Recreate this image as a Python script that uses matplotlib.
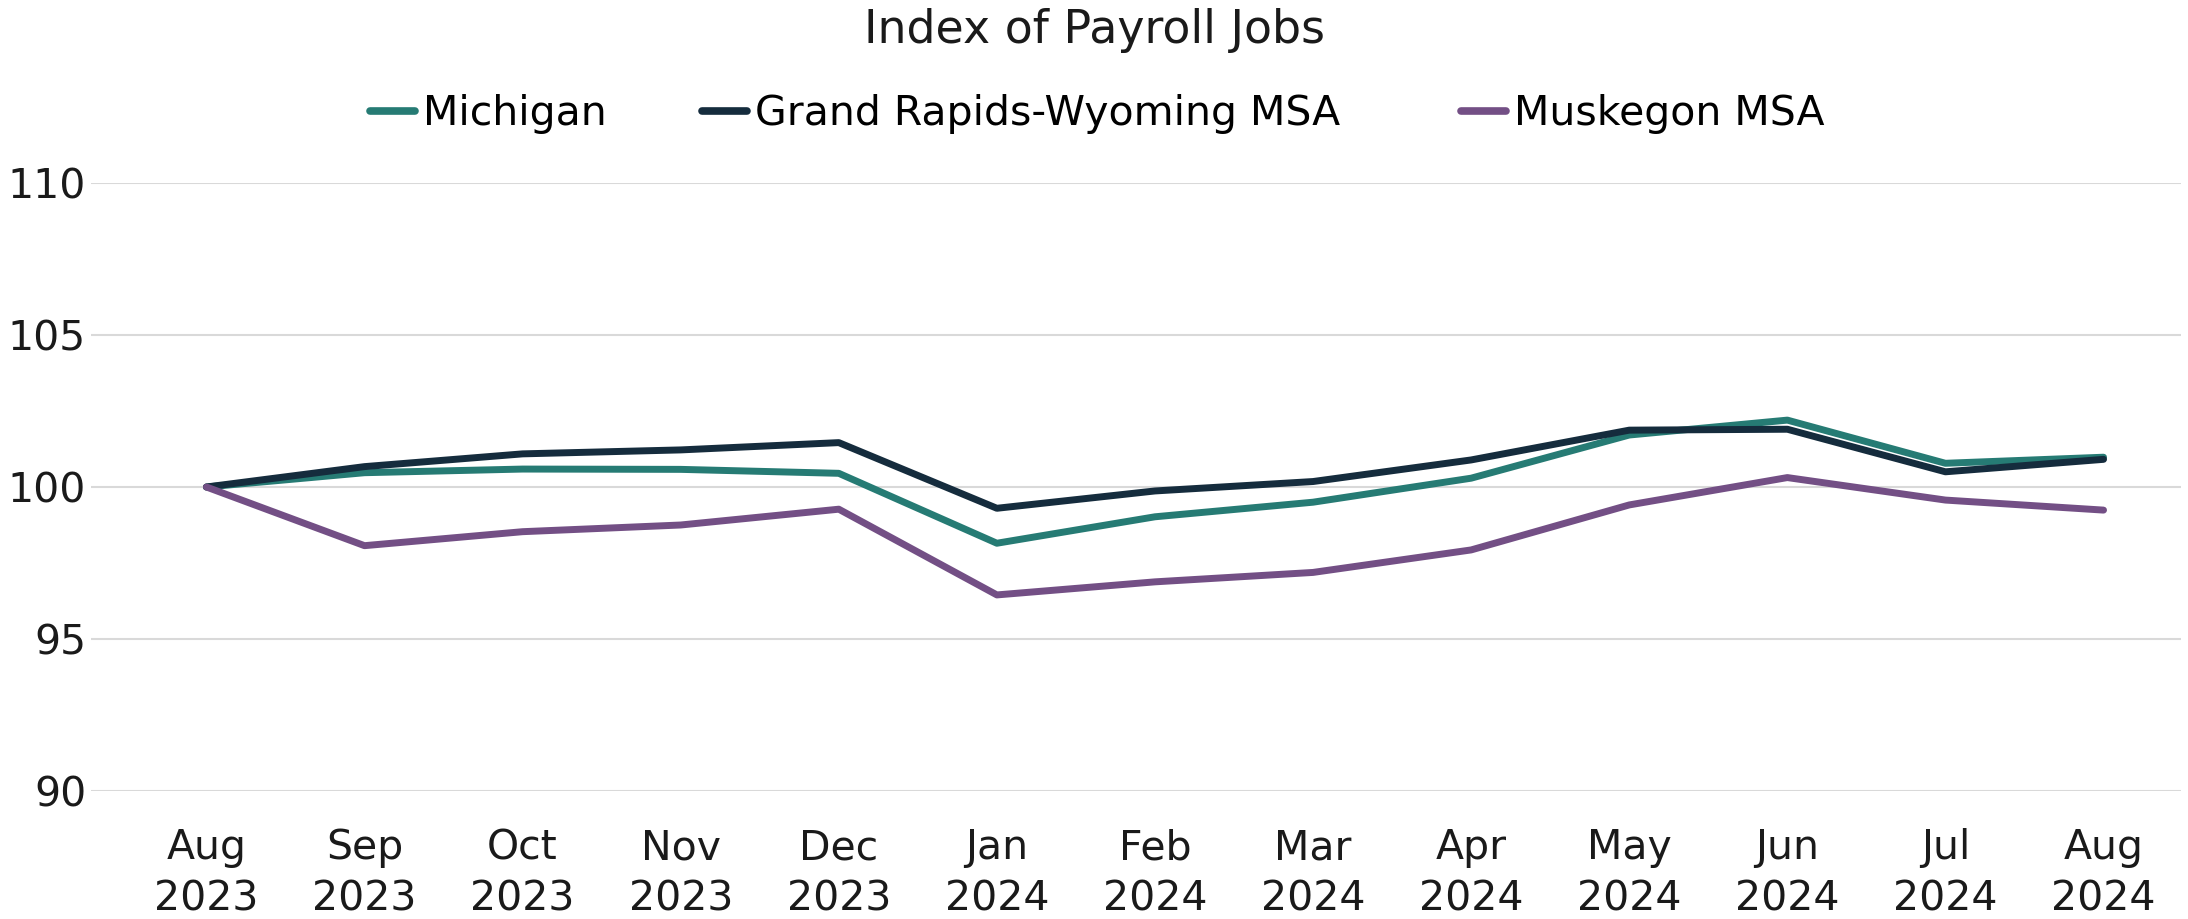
import matplotlib
matplotlib.use("Agg")
import matplotlib.pyplot as plt

months = ["Aug\n2023", "Sep\n2023", "Oct\n2023", "Nov\n2023", "Dec\n2023",
          "Jan\n2024", "Feb\n2024", "Mar\n2024", "Apr\n2024", "May\n2024",
          "Jun\n2024", "Jul\n2024", "Aug\n2024"]
michigan = [100.0, 100.47, 100.59, 100.58, 100.45, 98.15, 99.02, 99.50,
            100.29, 101.71, 102.2, 100.78, 100.98]
grand_rapids = [100.0, 100.67, 101.09, 101.22, 101.46, 99.30, 99.87, 100.18,
                100.89, 101.87, 101.9, 100.5, 100.91]
muskegon = [100.0, 98.07, 98.53, 98.75, 99.27, 96.45, 96.88, 97.19,
            97.93, 99.41, 100.31, 99.57, 99.24]
series_names = ["Michigan", "Grand Rapids-Wyoming MSA", "Muskegon MSA"]
colors = ["#267B74", "#152C3D", "#734F85"]
yticks = [90, 95, 100, 105, 110]

plt.rcParams['font.family'] = ['DejaVu Sans']

W, H = 2188, 919
FS = 29.5
fig = plt.figure(figsize=(W / 100, H / 100), dpi=100)
ax = fig.add_axes([91 / W, 128 / H, (2181 - 91) / W, (736 - 128) / H])

x = list(range(len(months)))
handles = []
for vals, name, c in zip([michigan, grand_rapids, muskegon], series_names, colors):
    h, = ax.plot(x, vals, color=c, lw=5, label=name, solid_capstyle='round')
    handles.append(h)

ax.set_ylim(90, 110)
ax.set_xlim(-0.73, 12.49)
ax.set_yticks(yticks)
ax.set_yticklabels([str(t) for t in yticks], fontsize=FS, color="#1a1a1a")
ax.set_xticks(x)
ax.set_xticklabels(months, fontsize=FS, color="#1a1a1a", linespacing=1.35)
ax.tick_params(axis='both', length=0)
ax.tick_params(axis='y', pad=3.5)
ax.tick_params(axis='x', pad=27)
ax.grid(axis='y', color="#D9D9D9", lw=1.5)
ax.set_axisbelow(True)
for s in ax.spines.values():
    s.set_visible(False)

fig.text(0.5, 1 - 43.3 / H, "Index of Payroll Jobs", ha='center', va='baseline',
         fontsize=33, color="#1a1a1a")

legend_x = [370, 702, 1461]
for h, lx in zip(handles, legend_x):
    leg = fig.legend([h], [h.get_label()], loc='center left',
                     bbox_to_anchor=(lx / W, 1 - 114 / H), frameon=False,
                     fontsize=FS, handlelength=1.1, handletextpad=0.2,
                     borderpad=0, borderaxespad=0)
    for line in leg.get_lines():
        line.set_linewidth(5.5)
        line.set_solid_capstyle('round')

fig.savefig("out.png", dpi=100)
